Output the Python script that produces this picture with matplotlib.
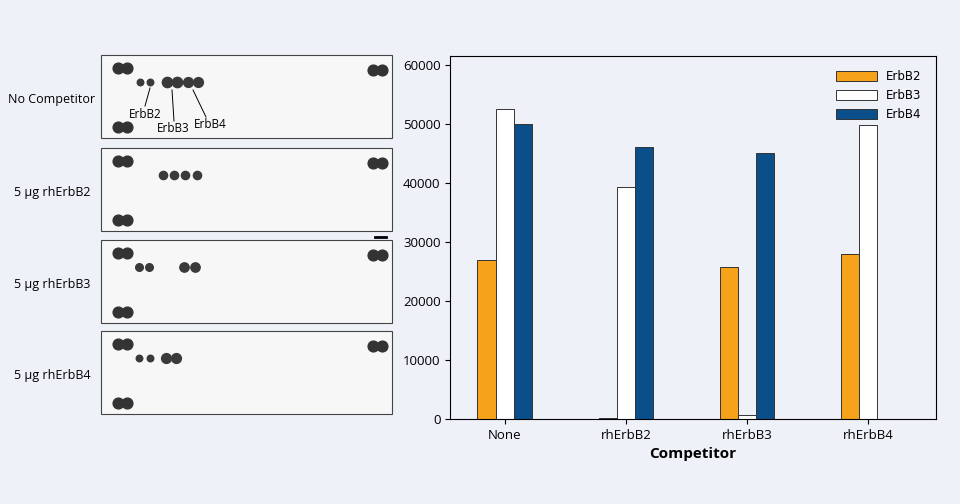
import matplotlib.pyplot as plt
import numpy as np
from matplotlib.patches import Rectangle

competitors = ["None", "rhErbB2", "rhErbB3", "rhErbB4"]
erbb2 = [27000, 200, 25800, 27900]
erbb3 = [52500, 39300, 600, 49800]
erbb4 = [50000, 46000, 45000, 0]

blot_labels = ["No Competitor", "5 µg rhErbB2", "5 µg rhErbB3", "5 µg rhErbB4"]
# spot x positions (pixels) and sizes per blot: list of (x, size)
blot_spots = [
    [(140, 22), (150, 22), (167, 55), (177, 55), (188, 50), (198, 50)],
    [(163, 35), (174, 35), (185, 35), (197, 35)],
    [(139, 30), (149, 30), (184, 45), (195, 45)],
    [(139, 22), (150, 22), (166, 50), (176, 50)],
]
blot_tops = [55, 148, 240, 331]
blot_h = 83

bg = "#eef1f8"
fig = plt.figure(figsize=(9.6, 5.04), dpi=100, facecolor=bg)

# left: blot panels in pixel coordinates
axl = fig.add_axes([0, 0, 0.45, 1])
axl.set_xlim(0, 432)
axl.set_ylim(504, 0)
axl.axis("off")
for top, lab, spots in zip(blot_tops, blot_labels, blot_spots):
    axl.add_patch(Rectangle((101, top), 291, blot_h, facecolor="#f7f7f7",
                            edgecolor="#444444", lw=0.8))
    axl.text(52, top + blot_h / 2 + 3, lab, ha="center", va="center",
             fontsize=9, family="Open Sans")
    # reference corner dots
    for x in (118, 127):
        axl.scatter(x, top + 13, s=60, color="#333333")
        axl.scatter(x, top + 72, s=60, color="#333333")
    for x in (373, 382):
        axl.scatter(x, top + 15, s=60, color="#333333")
    for x, s in spots:
        axl.scatter(x, top + 27, s=s, color="#3a3a3a")
axl.plot([375, 386], [237, 237], color="black", lw=2)
# annotations in first blot
axl.text(145, 114, "ErbB2", ha="center", va="center", fontsize=8.5, family="Open Sans")
axl.text(173, 129, "ErbB3", ha="center", va="center", fontsize=8.5, family="Open Sans")
axl.text(210, 125, "ErbB4", ha="center", va="center", fontsize=8.5, family="Open Sans")
axl.plot([150, 145], [88, 106], color="black", lw=0.7)
axl.plot([172, 174], [90, 121], color="black", lw=0.7)
axl.plot([193, 206], [90, 117], color="black", lw=0.7)

# right: bar chart
ax = fig.add_axes([0.469, 0.169, 0.506, 0.72])
ax.set_facecolor(bg)
x = np.arange(len(competitors))
w = 0.15
ax.bar(x - w, erbb2, w, color="#f7a21b", edgecolor="#333333", lw=0.7, label="ErbB2")
ax.bar(x, erbb3, w, color="white", edgecolor="#333333", lw=0.7, label="ErbB3")
ax.bar(x + w, erbb4, w, color="#0b4f8a", edgecolor="#333333", lw=0.7, label="ErbB4")
ax.set_xlim(-0.45, 3.56)
ax.set_ylim(0, 61500)
ax.set_yticks(range(0, 60001, 10000))
ax.set_xticks(x)
ax.set_xticklabels(competitors)
ax.tick_params(labelsize=9.5)
for lbl in ax.get_xticklabels() + ax.get_yticklabels():
    lbl.set_family("Open Sans")
ax.set_xlabel("Competitor", fontsize=11, fontweight="bold", family="Open Sans")
leg = ax.legend(loc="upper right", frameon=False, fontsize=8.5, handlelength=3.5,
                handleheight=0.9, borderaxespad=0.8)
plt.savefig("out.png", dpi=100, facecolor=bg)
